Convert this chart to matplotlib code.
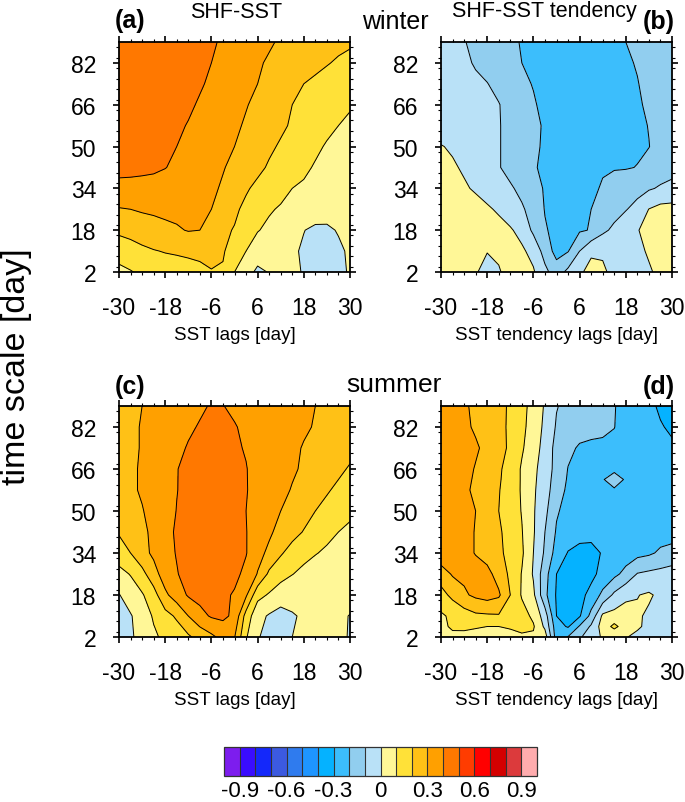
#!/usr/bin/env python3
"""Lagged SHF-SST correlation by time scale, winter and summer panels."""

import matplotlib
import matplotlib.pyplot as plt
import numpy as np
from matplotlib.colors import BoundaryNorm, ListedColormap
from matplotlib.ticker import MultipleLocator

matplotlib.use("Agg")

plt.rcParams["font.family"] = ["Liberation Sans", "DejaVu Sans"]
plt.rcParams["axes.unicode_minus"] = False

lags = [-30, -27, -24, -21, -18, -15, -12, -9, -6, -3, 0, 3, 6, 9, 12, 15, 18, 21, 24, 27, 30]
scale_rows = [2, 10, 18, 26, 34, 42, 50, 58, 66, 74, 82, 90]
scale_rows_d = [2, 6, 10, 18, 26, 34, 42, 50, 58, 62, 66, 74, 82, 90]

# rows run from time scale 2 up to 90
winter_sst = [
    [.085, .095, .115, .13, .15, .16, .17, .18, .195, .19, .10, .04, -.02, .005, .02, .015, -.005, -.015, -.02, -.012, .005],
    [.125, .15, .18, .195, .205, .21, .215, .22, .23, .21, .15, .10, .05, .035, .025, .012, -.01, -.025, -.03, -.012, .01],
    [.225, .24, .25, .265, .28, .29, .305, .30, .26, .215, .195, .15, .105, .08, .06, .03, .002, -.015, -.012, .005, .02],
    [.295, .30, .31, .315, .32, .325, .325, .32, .30, .265, .215, .18, .15, .11, .09, .07, .055, .04, .03, .025, .02],
    [.36, .36, .355, .355, .35, .345, .34, .33, .315, .29, .25, .21, .18, .155, .13, .10, .085, .065, .05, .04, .03],
    [.44, .435, .43, .42, .403, .38, .36, .34, .32, .305, .28, .25, .22, .19, .17, .145, .12, .09, .07, .055, .04],
    [.47, .46, .45, .435, .42, .40, .38, .36, .34, .32, .30, .27, .245, .215, .19, .165, .145, .12, .09, .07, .05],
    [.47, .465, .46, .445, .43, .415, .395, .38, .36, .34, .315, .29, .27, .24, .215, .19, .17, .15, .125, .10, .08],
    [.47, .465, .46, .455, .45, .435, .415, .39, .37, .35, .33, .305, .28, .255, .23, .20, .18, .16, .14, .125, .11],
    [.47, .465, .46, .455, .45, .44, .43, .41, .385, .36, .34, .32, .30, .275, .25, .225, .20, .185, .17, .16, .15],
    [.47, .47, .47, .465, .46, .45, .44, .42, .40, .375, .355, .33, .31, .29, .27, .25, .235, .22, .205, .19, .18],
    [.47, .47, .47, .465, .46, .455, .45, .435, .41, .39, .37, .35, .33, .31, .29, .275, .26, .245, .23, .22, .21],
]

winter_tend = [
    [.05, .05, .03, .005, -.02, -.005, .02, .02, .01, -.075, -.15, -.075, -.01, .02, .012, -.02, -.04, -.03, -.01, .02, .03],
    [.06, .06, .05, .04, .002, .01, .03, .015, -.03, -.14, -.235, -.205, -.10, -.01, -.01, -.04, -.04, -.02, .01, .03, .035],
    [.08, .075, .07, .06, .04, .025, .01, -.03, -.12, -.19, -.23, -.23, -.21, -.195, -.12, -.08, -.04, -.005, .03, .04, .045],
    [.07, .06, .045, .03, .01, -.01, -.05, -.09, -.13, -.205, -.23, -.23, -.22, -.20, -.165, -.135, -.105, -.07, .002, .03, .035],
    [.06, .04, .01, -.01, -.03, -.06, -.09, -.12, -.16, -.21, -.235, -.24, -.225, -.21, -.195, -.17, -.15, -.13, -.11, -.09, -.08],
    [.03, .01, -.01, -.035, -.065, -.095, -.125, -.15, -.19, -.22, -.24, -.24, -.23, -.215, -.205, -.205, -.205, -.198, -.17, -.145, -.125],
    [.004, -.01, -.03, -.055, -.08, -.095, -.125, -.155, -.18, -.215, -.24, -.26, -.27, -.27, -.26, -.24, -.22, -.21, -.202, -.17, -.15],
    [-.04, -.05, -.06, -.07, -.085, -.095, -.125, -.155, -.18, -.21, -.24, -.26, -.27, -.27, -.26, -.25, -.235, -.22, -.197, -.17, -.155],
    [-.05, -.06, -.07, -.08, -.09, -.097, -.125, -.16, -.19, -.225, -.25, -.26, -.26, -.26, -.25, -.24, -.225, -.208, -.19, -.17, -.155],
    [-.06, -.07, -.08, -.09, -.098, -.12, -.15, -.18, -.205, -.23, -.25, -.26, -.26, -.25, -.245, -.23, -.215, -.203, -.18, -.16, -.15],
    [-.07, -.08, -.09, -.105, -.125, -.15, -.18, -.20, -.225, -.24, -.25, -.25, -.25, -.245, -.24, -.225, -.21, -.195, -.175, -.16, -.145],
    [-.07, -.08, -.097, -.115, -.13, -.155, -.185, -.205, -.22, -.24, -.25, -.25, -.25, -.24, -.23, -.215, -.20, -.185, -.17, -.155, -.14],
]

summer_sst = [
    [-.035, -.01, .025, .085, .12, .145, .185, .235, .28, .33, .305, .11, .005, -.02, -.02, 0, .015, .02, .02, .012, -.004],
    [-.04, -.008, .05, .11, .165, .215, .30, .37, .41, .42, .38, .16, .03, -.01, -.03, -.007, .01, .015, .015, .01, -.002],
    [-.005, .05, .09, .16, .28, .35, .41, .43, .44, .42, .39, .315, .13, .09, .04, .03, .03, .03, .025, .02, .02],
    [.07, .105, .17, .26, .35, .395, .43, .445, .45, .445, .425, .375, .295, .18, .14, .103, .075, .055, .04, .03, .025],
    [.15, .20, .265, .32, .37, .405, .43, .445, .455, .45, .435, .405, .33, .28, .21, .165, .13, .105, .085, .06, .05],
    [.21, .24, .28, .32, .375, .41, .43, .445, .455, .455, .44, .403, .36, .315, .27, .23, .195, .16, .125, .10, .08],
    [.25, .27, .295, .33, .37, .402, .425, .44, .45, .45, .435, .40, .37, .335, .30, .27, .235, .20, .17, .145, .12],
    [.26, .285, .31, .335, .365, .398, .42, .435, .45, .45, .43, .404, .375, .345, .32, .295, .27, .245, .21, .18, .155],
    [.26, .285, .31, .335, .36, .398, .415, .425, .44, .44, .425, .403, .375, .35, .33, .31, .29, .265, .24, .22, .19],
    [.265, .285, .305, .33, .36, .385, .405, .42, .43, .43, .41, .395, .37, .35, .33, .315, .295, .275, .26, .245, .23],
    [.27, .285, .305, .33, .355, .38, .39, .405, .42, .42, .405, .385, .37, .355, .34, .33, .31, .295, .28, .265, .25],
    [.27, .285, .30, .32, .34, .36, .375, .39, .405, .402, .385, .38, .365, .35, .34, .33, .31, .30, .285, .27, .26],
]

summer_tend = [
    [.05, .06, .07, .08, .085, .085, .085, .085, .085, .05, -.25, -.195, -.115, -.04, .01, .02, .005, -.02, -.035, -.04, -.04],
    [.06, .125, .12, .105, .10, .10, .105, .125, .11, -.02, -.26, -.31, -.19, -.085, .045, .125, .05, .012, -.02, -.03, -.035],
    [.085, .12, .15, .18, .185, .19, .19, .14, .08, -.05, -.30, -.34, -.31, -.17, .02, .035, .04, .012, -.015, -.03, -.035],
    [.165, .225, .285, .32, .34, .315, .20, .09, .02, -.175, -.31, -.34, -.33, -.27, -.175, -.08, -.02, -.003, .012, -.02, -.03],
    [.25, .31, .32, .34, .33, .26, .18, .095, -.01, -.16, -.30, -.325, -.345, -.325, -.27, -.225, -.17, -.095, -.08, -.07, -.06],
    [.37, .35, .33, .295, .26, .22, .17, .115, 0, -.115, -.24, -.305, -.325, -.32, -.295, -.27, -.25, -.23, -.215, -.185, -.16],
    [.36, .345, .33, .295, .26, .215, .16, .105, .01, -.10, -.21, -.25, -.27, -.28, -.27, -.26, -.25, -.24, -.235, -.24, -.25],
    [.36, .34, .325, .30, .265, .20, .155, .095, .01, -.075, -.19, -.23, -.245, -.25, -.25, -.25, -.25, -.25, -.25, -.25, -.25],
    [.36, .335, .315, .285, .26, .205, .155, .09, .015, -.06, -.15, -.22, -.24, -.245, -.235, -.205, -.235, -.25, -.255, -.26, -.27],
    [.36, .34, .32, .29, .265, .21, .16, .09, .02, -.055, -.14, -.21, -.23, -.235, -.203, -.18, -.205, -.245, -.255, -.265, -.275],
    [.36, .35, .325, .295, .265, .215, .16, .09, .025, -.05, -.13, -.203, -.225, -.235, -.23, -.21, -.23, -.25, -.26, -.27, -.275],
    [.36, .35, .33, .31, .28, .24, .18, .11, .05, -.04, -.13, -.18, -.21, -.22, -.225, -.225, -.25, -.26, -.27, -.285, -.29],
    [.36, .34, .315, .29, .26, .225, .185, .125, .055, -.02, -.11, -.16, -.165, -.17, -.175, -.198, -.24, -.26, -.28, -.295, -.31],
    [.36, .34, .31, .285, .26, .22, .19, .13, .065, -.01, -.095, -.125, -.145, -.165, -.175, -.195, -.235, -.26, -.285, -.31, -.33],
]

bounds = np.round(np.arange(-1.0, 1.01, 0.1), 1)
colors = [
    "#7D1DEE", "#3A0CFF", "#1428FA", "#3C5AE0", "#2F7BEE", "#1E95FF", "#05B2FF",
    "#3CBEFC", "#91CEEF", "#B9E1F7", "#FFF797", "#FFE138", "#FFC116", "#FFA000",
    "#FF7800", "#FF3C00", "#FF0000", "#D40000", "#DC3A3C", "#FFACAE",
]
x_ticks = [-30, -18, -6, 6, 18, 30]
y_ticks = [2, 18, 34, 50, 66, 82]
bar_ticks = [-0.9, -0.6, -0.3, 0, 0.3, 0.6, 0.9]
bar_labels = ["-0.9", "-0.6", "-0.3", "0", "0.3", "0.6", "0.9"]

W, H = 685, 803
cmap = ListedColormap(colors)
norm = BoundaryNorm(bounds, cmap.N)


def box(left, top, right, bottom):
    """Figure rectangle from pixel edges, measured from the top left."""
    return [left / W, 1 - bottom / H, (right - left) / W, (bottom - top) / H]


def put(x, y, s, **kw):
    return fig.text(x / W, 1 - y / H, s, va="center", **kw)


def panel(rect, rows, values, xlabel):
    ax = fig.add_axes(rect)
    field = np.array(values)
    cs = ax.contourf(lags, rows, field, levels=bounds, cmap=cmap, norm=norm)
    ax.contour(lags, rows, field, levels=bounds, colors="k", linewidths=0.7, linestyles="solid")
    ax.set_xlim(-30, 30)
    ax.set_ylim(2, 90)
    ax.set_xticks(x_ticks)
    ax.set_yticks(y_ticks)
    ax.xaxis.set_minor_locator(MultipleLocator(3))
    ax.yaxis.set_minor_locator(MultipleLocator(4))
    ax.tick_params(which="major", direction="out", length=4.5, width=1.2, labelsize=16.5,
                   top=True, right=True)
    ax.tick_params(which="minor", direction="out", length=2.5, width=0.8, top=True, right=True)
    ax.tick_params(axis="x", which="major", pad=13)
    ax.tick_params(axis="y", which="major", pad=12)
    for spine in ax.spines.values():
        spine.set_linewidth(1.3)
    ax.set_xlabel(xlabel, fontsize=13.5, labelpad=5)
    return cs


fig = plt.figure(figsize=(W / 100, H / 100), dpi=100)

cs = panel(box(119, 43, 350, 273), scale_rows, winter_sst, "SST lags [day]")
panel(box(441, 43, 672, 273), scale_rows, winter_tend, "SST tendency lags [day]")
panel(box(119, 407, 350, 638), scale_rows, summer_sst, "SST lags [day]")
panel(box(441, 407, 672, 638), scale_rows_d, summer_tend, "SST tendency lags [day]")

put(115, 21, "(a)", fontsize=18, fontweight="bold", ha="left")
put(675, 22, "(b)", fontsize=18, fontweight="bold", ha="right")
put(115, 387, "(c)", fontsize=18, fontweight="bold", ha="left")
put(675, 387, "(d)", fontsize=18, fontweight="bold", ha="right")
put(236, 13, "SHF-SST", fontsize=15.5, ha="center")
put(544, 11, "SHF-SST tendency", fontsize=15.5, ha="center")
put(395, 22, "winter", fontsize=18, ha="center")
put(394, 385, "summer", fontsize=19, ha="center")
put(17, 367, "time scale [day]", fontsize=24.5, ha="center", rotation=90)

cax = fig.add_axes(box(224, 748, 537, 777))
bar = fig.colorbar(cs, cax=cax, orientation="horizontal", spacing="uniform", drawedges=True)
bar.set_ticks(bar_ticks, labels=bar_labels)
bar.ax.tick_params(length=0, labelsize=16, pad=3)
bar.ax.minorticks_off()
bar.outline.set_linewidth(0.9)
bar.outline.set_edgecolor("#333333")
bar.dividers.set_color("#333333")
bar.dividers.set_linewidth(0.8)

fig.savefig("out.png", dpi=100)
